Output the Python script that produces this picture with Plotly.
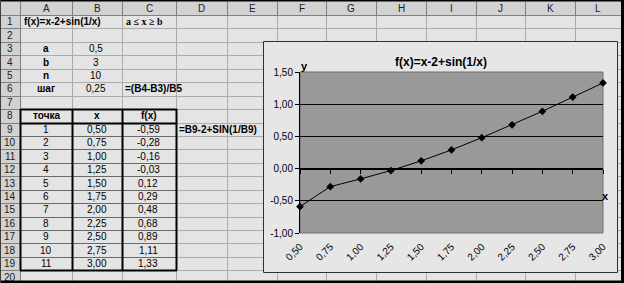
import plotly.graph_objects as go

W, H = 624, 283

# ---------------- data ----------------
points = [1, 2, 3, 4, 5, 6, 7, 8, 9, 10, 11]
x_vals = [0.50, 0.75, 1.00, 1.25, 1.50, 1.75, 2.00, 2.25, 2.50, 2.75, 3.00]
fx_vals = [-0.59, -0.28, -0.16, -0.03, 0.12, 0.29, 0.48, 0.68, 0.89, 1.11, 1.33]
x_labels = ["0,50", "0,75", "1,00", "1,25", "1,50", "1,75", "2,00", "2,25", "2,50", "2,75", "3,00"]
fx_labels = ["-0,59", "-0,28", "-0,16", "-0,03", "0,12", "0,29", "0,48", "0,68", "0,89", "1,11", "1,33"]
y_ticks = [-1.0, -0.5, 0.0, 0.5, 1.0, 1.5]
y_tick_labels = ["-1,00", "-0,50", "0,00", "0,50", "1,00", "1,50"]
param_names = ["a", "b", "n", "шаг"]
param_values = ["0,5", "3", "10", "0,25"]
col_letters = ["A", "B", "C", "D", "E", "F", "G", "H", "I", "J", "K", "L"]
table_headers = ["точка", "x", "f(x)"]
formula_title = "f(x)=x-2+sin(1/x)"
condition_text = "a ≤ x ≥ b"
step_formula = "=(B4-B3)/B5"
fx_formula = "=B9-2+SIN(1/B9)"

# ---------------- geometry / style ----------------
CELL_BG = "#e4e4e4"
HEAD_BG = "#d2d2d2"
GRID = "#ababab"
HEAD_LINE = "#808080"
PLOT_BG = "#999999"
SANS = "Arial, Liberation Sans, sans-serif"
SERIF = "Times New Roman, Liberation Serif, serif"

col_edges = [0, 20, 72, 122, 176, 227, 277, 326, 376, 426, 476, 525, 575, 621]
ROW0 = 15.0
ROW_H = 13.44
N_ROWS = 20
BOTTOM = 281


def X(px):
    return px / W


def Y(py):
    return 1 - py / H


def row_top(i):
    return ROW0 + (i - 1) * ROW_H


def row_mid(i):
    return row_top(i) + ROW_H / 2


def col_mid(c):
    return (col_edges[c + 1] + col_edges[c + 2]) / 2


shapes = []
annotations = []


def rect(x0, y0, x1, y1, fill, line=None, lw=0):
    shapes.append(dict(type="rect", xref="paper", yref="paper",
                       x0=X(x0), x1=X(x1), y0=Y(y1), y1=Y(y0),
                       fillcolor=fill, line=dict(color=line or fill, width=lw),
                       layer="below"))


def line(x0, y0, x1, y1, color, w=1):
    shapes.append(dict(type="line", xref="paper", yref="paper",
                       x0=X(x0), x1=X(x1), y0=Y(y0), y1=Y(y1),
                       line=dict(color=color, width=w), layer="below"))


def text(t, px, py, anchor="center", bold=False, size=10, family=SANS, color="black"):
    annotations.append(dict(text=f"<b>{t}</b>" if bold else t, x=X(px), y=Y(py),
                            xref="paper", yref="paper", xanchor=anchor, yanchor="middle",
                            showarrow=False, font=dict(family=family, size=size, color=color)))


# header backgrounds
rect(0, 0, W, ROW0, HEAD_BG)
rect(0, ROW0, col_edges[1], BOTTOM, HEAD_BG)

# cell grid
for xe in col_edges[2:-1]:
    line(xe + 0.5, ROW0, xe + 0.5, BOTTOM, GRID)
    line(xe + 0.5, 1, xe + 0.5, ROW0, HEAD_LINE)
for i in range(2, N_ROWS + 1):
    yy = round(row_top(i)) + 0.5
    line(col_edges[1], yy, col_edges[-1], yy, GRID)
    line(0, yy, col_edges[1], yy, HEAD_LINE)
line(0, ROW0 + 0.5, W, ROW0 + 0.5, HEAD_LINE)
line(col_edges[1] + 0.5, 0, col_edges[1] + 0.5, BOTTOM, HEAD_LINE)

# table borders (A8:C19)
tx0, tx1 = col_edges[1], col_edges[4]
ty0, ty1 = round(row_top(8)), round(row_top(20))
for i in range(10, 20):
    yy = round(row_top(i)) + 0.5
    line(tx0, yy, tx1, yy, "#6a6a6a")
line(tx0, round(row_top(9)) + 0.5, tx1, round(row_top(9)) + 0.5, "black", 2)
for xe in col_edges[1:5]:
    line(xe + 0.5, ty0, xe + 0.5, ty1, "black", 2)
line(tx0, ty0 + 0.5, tx1 + 1, ty0 + 0.5, "black", 2)
line(tx0, ty1 + 0.5, tx1 + 1, ty1 + 0.5, "black", 2)

# chart area box
rect(263.5, 41.5, 617.5, 272.5, "#e6e6e6", "#303030", 1)

# outer frame
line(0, 0.5, W, 0.5, "black", 2)
line(0, 282, W, 282, "black", 3)
line(622.5, 0, 622.5, H, "black", 3)
line(0.5, 0, 0.5, H, "#404040", 1)

# header labels
for c, letter in enumerate(col_letters):
    text(letter, col_mid(c), 8.5, size=10, color="#202020")
for i in range(1, N_ROWS + 1):
    text(str(i), 10, row_mid(i), size=10, color="#202020")

# cell contents
text(formula_title, col_edges[1] + 2, row_mid(1), anchor="left", bold=True)
text(condition_text, col_edges[3] + 2, row_mid(1), anchor="left", bold=True, family=SERIF)
for k, (nm, val) in enumerate(zip(param_names, param_values)):
    text(nm, col_mid(0), row_mid(3 + k), bold=True)
    text(val, col_mid(1) - 1, row_mid(3 + k))
text(step_formula, col_edges[3] + 1, row_mid(6), anchor="left", bold=True)
for c, hd in enumerate(table_headers):
    text(hd, col_mid(c), row_mid(8), bold=True)
for k in range(len(points)):
    r = 9 + k
    text(str(points[k]), col_mid(0), row_mid(r))
    text(x_labels[k], col_mid(1), row_mid(r))
    text(fx_labels[k], col_mid(2) - 1, row_mid(r))
text(fx_formula, col_edges[4] + 1, row_mid(9), anchor="left", bold=True)

# ---------------- chart ----------------
PX0, PX1, PY0, PY1 = 300, 603, 72, 233
ydom = [Y(PY1), Y(PY0)]
yr = [y_ticks[0], y_ticks[-1]]
zero_pos = ydom[0] + (0 - yr[0]) / (yr[1] - yr[0]) * (ydom[1] - ydom[0])

fig = go.Figure()
fig.add_trace(go.Scatter(x=x_vals, y=fx_vals, mode="lines+markers",
                         line=dict(color="black", width=1),
                         marker=dict(symbol="diamond", size=6, color="black"),
                         cliponaxis=False, showlegend=False, hoverinfo="skip"))
# invisible companion trace so the zero-level category axis is built
fig.add_trace(go.Scatter(x=x_vals, y=fx_vals, xaxis="x2", mode="markers",
                         marker=dict(size=1, opacity=0), showlegend=False,
                         hoverinfo="skip"))

# plot area fill + border (subplot layer, under the gridlines)
shapes.append(dict(type="rect", xref="x domain", yref="y domain", x0=0, x1=1, y0=0, y1=1,
                   fillcolor=PLOT_BG, line=dict(color="#6e6e6e", width=1), layer="below"))

text(formula_title, (263 + 618) / 2, 62, bold=True, size=12)
text("y", 304, 66, bold=True, size=11)
text("x", 605, 196, bold=True, size=11)

fig.update_layout(
    width=W, height=H, margin=dict(l=0, r=0, t=0, b=0),
    paper_bgcolor=CELL_BG, plot_bgcolor=PLOT_BG,
    shapes=shapes, annotations=annotations, showlegend=False,
    xaxis=dict(domain=[X(PX0), X(PX1)], range=[x_vals[0], x_vals[-1]],
               tickvals=x_vals, ticktext=x_labels, tickangle=-45,
               tickfont=dict(family=SANS, size=10, color="black"),
               ticklabelstandoff=5,
               showgrid=False, zeroline=False, showline=False, ticks="",
               automargin=False, fixedrange=True),
    xaxis2=dict(overlaying="x", anchor="free", position=zero_pos, side="bottom",
                range=[x_vals[0], x_vals[-1]], tickvals=x_vals,
                showticklabels=False, ticks="outside", ticklen=4, tickcolor="black",
                showline=True, linecolor="black", linewidth=1,
                showgrid=False, zeroline=False, automargin=False, fixedrange=True),
    yaxis=dict(domain=ydom, range=yr, tickvals=y_ticks, ticktext=y_tick_labels,
               tickfont=dict(family=SANS, size=10, color="black"),
               ticks="outside", ticklen=4, tickcolor="black",
               showline=True, linecolor="black", linewidth=1,
               showgrid=True, gridcolor="black", gridwidth=1,
               zeroline=False, automargin=False, fixedrange=True),
)

fig.write_html("out.html")
